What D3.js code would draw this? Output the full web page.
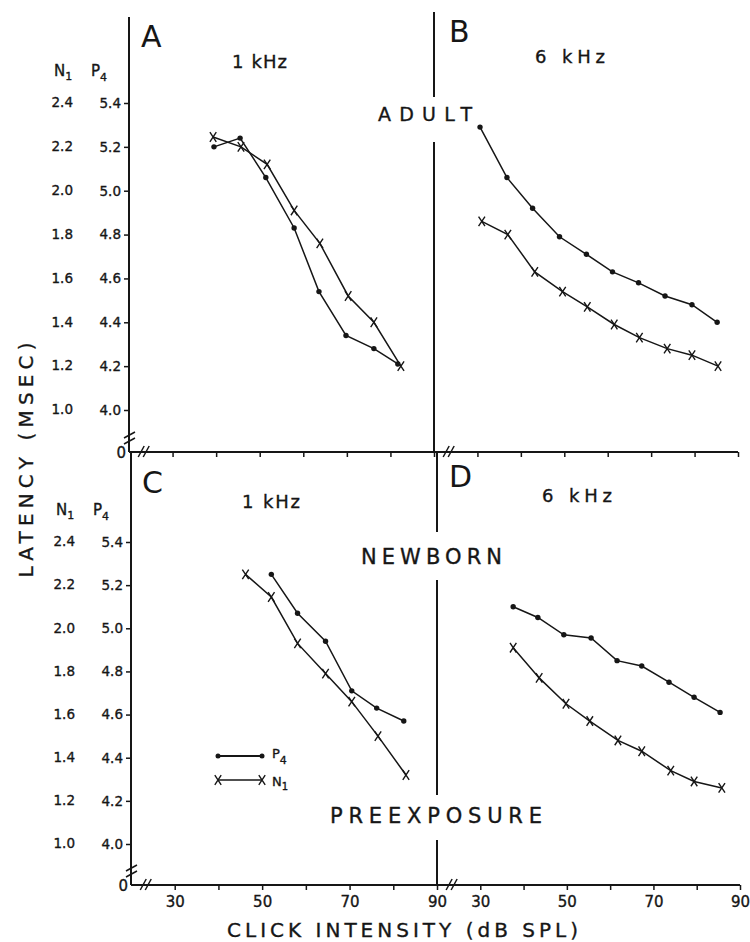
<!DOCTYPE html>
<html>
<head>
<meta charset="utf-8">
<script src="https://cdn.jsdelivr.net/npm/d3@7"></script>
<style>
body { margin: 0; background: #fff; }
svg { display: block; }
text { font-family: "DejaVu Sans", sans-serif; fill: #161616; stroke: #161616; stroke-width: 0.35; }
text.letter { stroke: none; }
</style>
</head>
<body>
<svg id="chart"></svg>
<script>
/* click intensity (dB SPL) and latency (msec) */
var aP4Db = [39.5, 45.5, 51.4, 57.9, 63.6, 69.8, 76.2, 81.7];
var aP4 = [5.20, 5.24, 5.06, 4.83, 4.54, 4.34, 4.28, 4.21];
var aN1Db = [39.3, 45.7, 51.7, 57.9, 63.8, 70.3, 76.2, 82.4];
var aN1 = [2.245, 2.20, 2.12, 1.91, 1.76, 1.52, 1.40, 1.20];

var bP4Db = [30.6, 36.8, 42.7, 48.9, 55.1, 61.1, 67.1, 73.2, 79.4, 85.2];
var bP4 = [5.29, 5.06, 4.92, 4.79, 4.71, 4.63, 4.58, 4.52, 4.48, 4.40];
var bN1Db = [31.0, 37.0, 43.2, 49.6, 55.3, 61.5, 67.3, 73.7, 79.4, 85.4];
var bN1 = [1.86, 1.80, 1.63, 1.54, 1.47, 1.39, 1.33, 1.28, 1.25, 1.20];

var cP4Db = [52.1, 58.1, 64.5, 70.5, 76.2, 82.4];
var cP4 = [5.25, 5.07, 4.94, 4.71, 4.63, 4.57];
var cN1Db = [46.2, 52.1, 58.1, 64.5, 70.5, 76.5, 82.9];
var cN1 = [2.25, 2.145, 1.93, 1.79, 1.66, 1.50, 1.32];

var dP4Db = [37.6, 43.3, 49.3, 55.6, 61.6, 67.3, 73.6, 79.4, 85.4];
var dP4 = [5.10, 5.05, 4.97, 4.955, 4.85, 4.825, 4.75, 4.68, 4.61];
var dN1Db = [37.6, 43.6, 49.8, 55.3, 61.8, 67.3, 74.0, 79.4, 85.8];
var dN1 = [1.91, 1.77, 1.65, 1.57, 1.48, 1.43, 1.34, 1.29, 1.26];

/* tick values */
var p4Ticks = [4.0, 4.2, 4.4, 4.6, 4.8, 5.0, 5.2, 5.4];
var n1Ticks = [1.0, 1.2, 1.4, 1.6, 1.8, 2.0, 2.2, 2.4];
var dbTicks = [30, 40, 50, 60, 70, 80, 90];
var dbLabels = [30, 50, 70, 90];

var width = 750;
var height = 942;
var ink = '#161616';

/* layout of the two rows of panels (scan is a bit skewed, so rows differ slightly) */
var rows = [
    {top: 17, axisY: 452, y40: 410, y54: 103, xLeft: 129, xMid: 434, xRight: 738,
     divTop: 12, gaps: [[97, 142]], labels: false,
     left: {letter: 'A', freq: '1 kHz', p4Db: aP4Db, p4: aP4, n1Db: aN1Db, n1: aN1,
            letterXY: [141, 47], freqXY: [232, 68], freqLen: 55},
     right: {letter: 'B', freq: '6 kHz', p4Db: bP4Db, p4: bP4, n1Db: bN1Db, n1: bN1,
            letterXY: [449, 42], freqXY: [535, 63], freqLen: 70}},
    {top: 452, axisY: 885, y40: 844, y54: 542, xLeft: 131, xMid: 437, xRight: 740,
     divTop: 452, gaps: [[532, 580], [795, 840]], labels: true,
     left: {letter: 'C', freq: '1 kHz', p4Db: cP4Db, p4: cP4, n1Db: cN1Db, n1: cN1,
            letterXY: [142, 493], freqXY: [242, 508], freqLen: 58},
     right: {letter: 'D', freq: '6 kHz', p4Db: dP4Db, p4: dP4, n1Db: dN1Db, n1: dN1,
            letterXY: [449, 487], freqXY: [542, 502], freqLen: 70}}
];

var svg = d3.select('#chart')
    .attr('width', width)
    .attr('height', height);

rows.forEach(drawRow);
drawGroupLabels();
drawLegend();
drawTitles();

function drawRow(row){
    var g = svg.append('g');
    var yP4 = d3.scaleLinear().domain([4.0, 5.4]).range([row.y40, row.y54]);
    var yN1 = d3.scaleLinear().domain([1.0, 2.4]).range([row.y40, row.y54]);
    var xL = d3.scaleLinear().domain([20, 90]).range([row.xLeft, row.xMid]);
    var xR = d3.scaleLinear().domain([20, 90]).range([row.xMid, row.xRight]);

    /* left latency axis: P4 labels from the axis, N1 labels as a second column */
    var yAxis = g.append('g')
        .attr('transform', 'translate(' + row.xLeft + ',0)')
        .call(d3.axisLeft(yP4).tickValues(p4Ticks).tickSize(5).tickPadding(3)
            .tickFormat(d3.format('.1f')));
    yAxis.select('.domain').remove();
    yAxis.selectAll('line').attr('stroke', ink).attr('stroke-width', 1.5);
    yAxis.selectAll('text').attr('font-size', 13.5).attr('fill', ink)
        .attr('font-family', '"DejaVu Sans", sans-serif');

    g.selectAll('.n1lab')
        .data(n1Ticks)
        .enter()
        .append('text')
        .attr('class', 'n1lab')
        .attr('x', row.xLeft - 56)
        .attr('y', function(d){ return yN1(d); })
        .attr('dy', '0.32em')
        .attr('text-anchor', 'end')
        .attr('font-size', 13.5)
        .text(function(d){ return d3.format('.1f')(d); });

    /* column headers N1 / P4 */
    var hy = row.y54 - 27;
    var n = g.append('text').attr('x', row.xLeft - 75).attr('y', hy).attr('font-size', 15).text('N');
    n.append('tspan').attr('dy', 4).attr('font-size', 11).text('1');
    var p = g.append('text').attr('x', row.xLeft - 38).attr('y', hy).attr('font-size', 15).text('P');
    p.append('tspan').attr('dy', 5).attr('font-size', 11).text('4');

    /* axis lines */
    g.append('line')
        .attr('x1', row.xLeft).attr('x2', row.xLeft)
        .attr('y1', row.top).attr('y2', row.axisY)
        .attr('stroke', ink).attr('stroke-width', 2);
    g.append('line')
        .attr('x1', row.xLeft).attr('x2', row.xRight)
        .attr('y1', row.axisY).attr('y2', row.axisY)
        .attr('stroke', ink).attr('stroke-width', 2);
    g.append('text')
        .attr('x', row.xLeft - 3).attr('y', row.axisY + 6)
        .attr('text-anchor', 'end').attr('font-size', 15).text('0');

    /* middle divider with gaps for the group labels */
    var cuts = [row.divTop];
    row.gaps.forEach(function(gp){ cuts.push(gp[0], gp[1]); });
    cuts.push(row.axisY);
    for (var i = 0; i < cuts.length; i += 2) {
        g.append('line')
            .attr('x1', row.xMid).attr('x2', row.xMid)
            .attr('y1', cuts[i]).attr('y2', cuts[i + 1])
            .attr('stroke', ink).attr('stroke-width', 2);
    }

    /* intensity ticks for both panels */
    [xL, xR].forEach(function(x){
        var ax = g.append('g')
            .attr('transform', 'translate(0,' + row.axisY + ')')
            .call(d3.axisBottom(x).tickValues(dbTicks).tickSize(5).tickPadding(6)
                .tickFormat(function(d){
                    return row.labels && dbLabels.indexOf(d) >= 0 ? d : '';
                }));
        ax.select('.domain').remove();
        ax.selectAll('line').attr('stroke', ink).attr('stroke-width', 1.5);
        ax.selectAll('text').attr('font-size', 15).attr('fill', ink)
            .attr('font-family', '"DejaVu Sans", sans-serif');
    });

    /* axis breaks */
    drawBreakX(g, xL(22.8), row.axisY);
    drawBreakX(g, xR(22.8), row.axisY);
    drawBreakY(g, row.xLeft, row.axisY - 17);

    drawSeries(g, xL, yP4, yN1, row.left);
    drawSeries(g, xR, yP4, yN1, row.right);

    /* panel letter and frequency */
    [row.left, row.right].forEach(function(pn){
        g.append('text')
            .attr('class', 'letter')
            .attr('x', pn.letterXY[0]).attr('y', pn.letterXY[1])
            .attr('font-size', 30)
            .text(pn.letter);
        g.append('text')
            .attr('x', pn.freqXY[0]).attr('y', pn.freqXY[1])
            .attr('font-size', 18)
            .attr('textLength', pn.freqLen).attr('lengthAdjust', 'spacing')
            .text(pn.freq);
    });
}

function drawSeries(g, x, yP4, yN1, pn){
    var p4 = d3.zip(pn.p4Db, pn.p4);
    var n1 = d3.zip(pn.n1Db, pn.n1);
    var lineP4 = d3.line().x(function(d){ return x(d[0]); }).y(function(d){ return yP4(d[1]); });
    var lineN1 = d3.line().x(function(d){ return x(d[0]); }).y(function(d){ return yN1(d[1]); });

    g.append('path').datum(p4)
        .attr('d', lineP4).attr('fill', 'none')
        .attr('stroke', ink).attr('stroke-width', 1.5);
    g.append('path').datum(n1)
        .attr('d', lineN1).attr('fill', 'none')
        .attr('stroke', ink).attr('stroke-width', 1.5);

    g.selectAll(null)
        .data(p4)
        .enter()
        .append('circle')
        .attr('cx', function(d){ return x(d[0]); })
        .attr('cy', function(d){ return yP4(d[1]); })
        .attr('r', 2.7)
        .attr('fill', ink);

    g.selectAll(null)
        .data(n1)
        .enter()
        .append('path')
        .attr('d', function(d){ return crossPath(x(d[0]), yN1(d[1])); })
        .attr('fill', 'none')
        .attr('stroke', ink).attr('stroke-width', 1.4);
}

/* Helper: a small x-shaped marker */
function crossPath(cx, cy){
    var w = 3.2, h = 4.8;
    return 'M' + (cx - w) + ',' + (cy - h) + 'L' + (cx + w) + ',' + (cy + h) +
        'M' + (cx + w) + ',' + (cy - h) + 'L' + (cx - w) + ',' + (cy + h);
}

function drawBreakX(g, x, y){
    [0, 5].forEach(function(o){
        g.append('line')
            .attr('x1', x + o - 3).attr('y1', y + 5)
            .attr('x2', x + o + 3).attr('y2', y - 6)
            .attr('stroke', ink).attr('stroke-width', 1.5);
    });
}

function drawBreakY(g, x, y){
    [0, 6].forEach(function(o){
        g.append('line')
            .attr('x1', x - 5).attr('y1', y + o + 3)
            .attr('x2', x + 6).attr('y2', y + o - 3)
            .attr('stroke', ink).attr('stroke-width', 1.5);
    });
}

function drawGroupLabels(){
    var labs = [
        {text: 'ADULT', x: 378, y: 121, size: 19, len: 94},
        {text: 'NEWBORN', x: 361, y: 564, size: 21, len: 141},
        {text: 'PREEXPOSURE', x: 330, y: 823, size: 21, len: 212}
    ];
    svg.selectAll('.grp')
        .data(labs)
        .enter()
        .append('text')
        .attr('class', 'grp')
        .attr('x', function(d){ return d.x; })
        .attr('y', function(d){ return d.y; })
        .attr('font-size', function(d){ return d.size; })
        .attr('textLength', function(d){ return d.len; })
        .attr('lengthAdjust', 'spacing')
        .text(function(d){ return d.text; });
}

function drawLegend(){
    var g = svg.append('g');
    var x1 = 218, x2 = 262;
    g.append('line').attr('x1', x1).attr('x2', x2).attr('y1', 756).attr('y2', 756)
        .attr('stroke', ink).attr('stroke-width', 2);
    [x1, x2].forEach(function(x){
        g.append('circle').attr('cx', x).attr('cy', 756).attr('r', 2.5).attr('fill', ink);
    });
    var p = g.append('text').attr('x', 272).attr('y', 758).attr('font-size', 13).text('P');
    p.append('tspan').attr('dy', 6).attr('font-size', 11).text('4');

    g.append('line').attr('x1', x1).attr('x2', x2).attr('y1', 780).attr('y2', 780)
        .attr('stroke', ink).attr('stroke-width', 1.5);
    [x1, x2].forEach(function(x){
        g.append('path').attr('d', crossPath(x, 780)).attr('fill', 'none')
            .attr('stroke', ink).attr('stroke-width', 1.4);
    });
    var n = g.append('text').attr('x', 272).attr('y', 786).attr('font-size', 13).text('N');
    n.append('tspan').attr('dy', 4).attr('font-size', 10).text('1');
}

function drawTitles(){
    svg.append('text')
        .attr('transform', 'translate(33,460) rotate(-90)')
        .attr('text-anchor', 'middle')
        .attr('font-size', 20)
        .attr('textLength', 235).attr('lengthAdjust', 'spacing')
        .text('LATENCY (MSEC)');
    svg.append('text')
        .attr('x', 227).attr('y', 937)
        .attr('font-size', 20)
        .attr('textLength', 351).attr('lengthAdjust', 'spacing')
        .text('CLICK INTENSITY (dB SPL)');
}
</script>
</body>
</html>
